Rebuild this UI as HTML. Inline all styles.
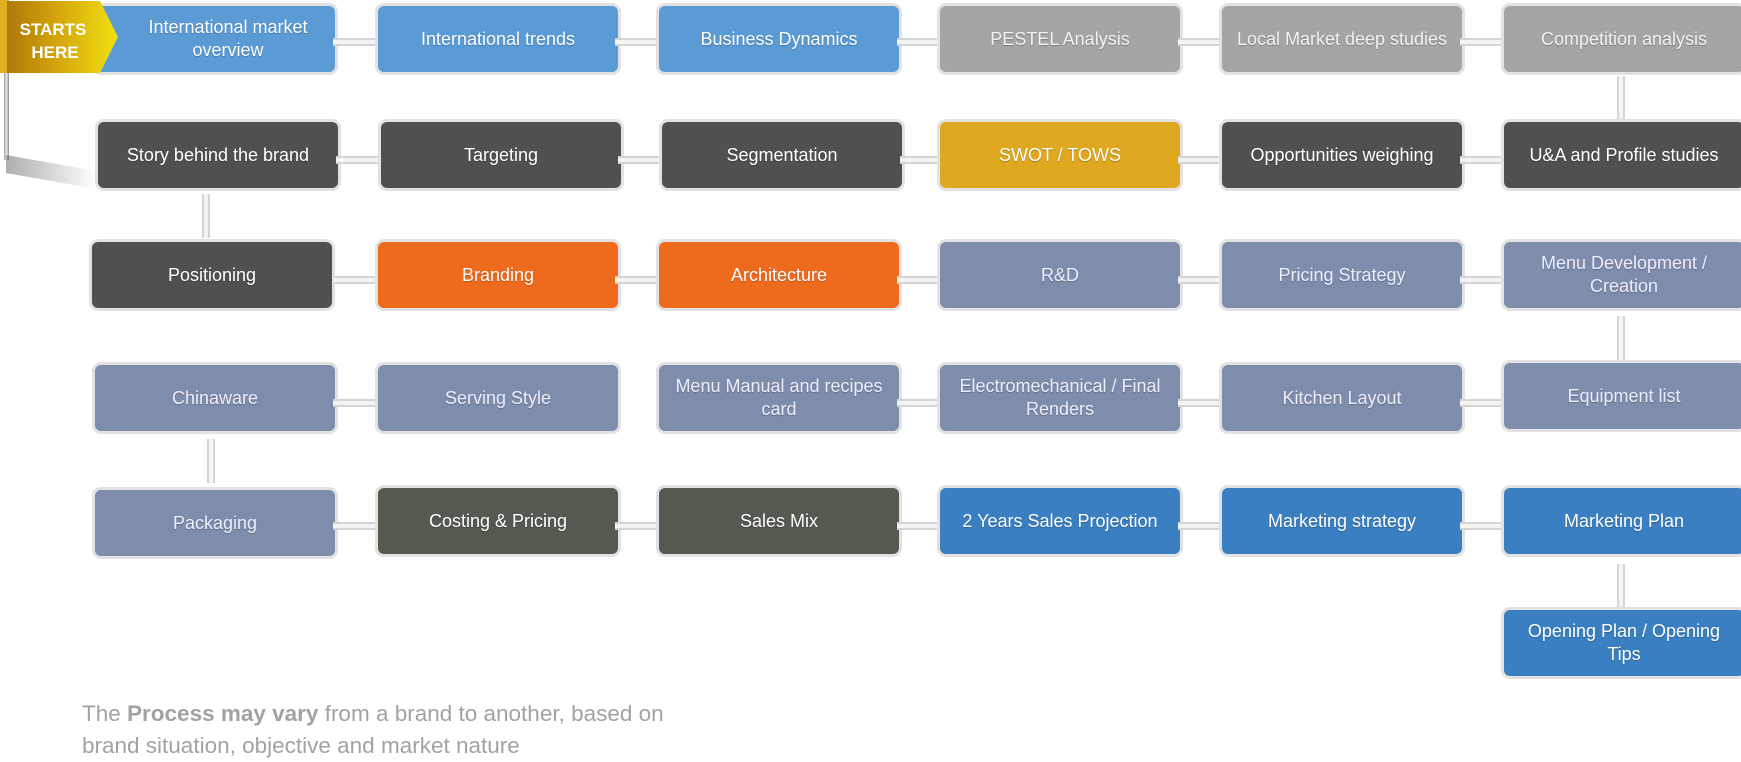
<!DOCTYPE html>
<html><head><meta charset="utf-8"><style>
body{margin:0;width:1741px;height:759px;background:#fff;position:relative;overflow:hidden;font-family:"Liberation Sans",sans-serif}
.b{position:absolute;width:232px;height:66px;border:3px solid #e2e2e2;border-radius:9px;color:#fff;display:flex;align-items:center;justify-content:center;text-align:center;font-size:18px;line-height:23px;box-sizing:content-box;text-shadow:0 1px 1px rgba(0,0,0,.25);padding:0 4px}
.lb{background:#5b9bd5}.gr{background:#a5a5a5;color:#f2f2f2}.dk{background:#505050}.au{background:#dfa820}.or{background:#ee6b1e}.sl{background:#7f8dad;color:#eef}.dg{background:#555a50}.bl{background:#3a7fc1}
.h{position:absolute;height:4px;width:42px;border-top:2px solid #d4d4d4;border-bottom:2px solid #d4d4d4;background:#f4f4f4}
.v{position:absolute;width:4px;height:44px;border-left:2px solid #d4d4d4;border-right:2px solid #d4d4d4;background:#f4f4f4}
</style></head><body>
<!-- row1 -->
<div class="b lb" style="left:92px;top:3px;padding-left:30px;width:206px">International market<br>overview</div>
<div class="h" style="left:333px;top:38px"></div>
<div class="b lb" style="left:375px;top:3px">International trends</div>
<div class="h" style="left:615px;top:38px"></div>
<div class="b lb" style="left:656px;top:3px">Business Dynamics</div>
<div class="h" style="left:897px;top:38px"></div>
<div class="b gr" style="left:937px;top:3px">PESTEL Analysis</div>
<div class="h" style="left:1178px;top:38px"></div>
<div class="b gr" style="left:1219px;top:3px">Local Market deep studies</div>
<div class="h" style="left:1460px;top:38px"></div>
<div class="b gr" style="left:1501px;top:3px">Competition analysis</div>
<div class="v" style="left:1617px;top:76px"></div>
<!-- row2 -->
<div class="b dk" style="left:95px;top:119px">Story behind the brand</div>
<div class="h" style="left:336px;top:156px"></div>
<div class="b dk" style="left:378px;top:119px">Targeting</div>
<div class="h" style="left:618px;top:156px"></div>
<div class="b dk" style="left:659px;top:119px">Segmentation</div>
<div class="h" style="left:900px;top:156px"></div>
<div class="b au" style="left:937px;top:119px">SWOT / TOWS</div>
<div class="h" style="left:1178px;top:156px"></div>
<div class="b dk" style="left:1219px;top:119px">Opportunities weighing</div>
<div class="h" style="left:1460px;top:156px"></div>
<div class="b dk" style="left:1501px;top:119px">U&amp;A and Profile studies</div>
<div class="v" style="left:202px;top:194px"></div>
<!-- row3 -->
<div class="b dk" style="left:89px;top:239px">Positioning</div>
<div class="h" style="left:333px;top:276px"></div>
<div class="b or" style="left:375px;top:239px">Branding</div>
<div class="h" style="left:615px;top:276px"></div>
<div class="b or" style="left:656px;top:239px">Architecture</div>
<div class="h" style="left:897px;top:276px"></div>
<div class="b sl" style="left:937px;top:239px">R&amp;D</div>
<div class="h" style="left:1178px;top:276px"></div>
<div class="b sl" style="left:1219px;top:239px">Pricing Strategy</div>
<div class="h" style="left:1460px;top:276px"></div>
<div class="b sl" style="left:1501px;top:239px">Menu Development /<br>Creation</div>
<div class="v" style="left:1617px;top:316px"></div>
<!-- row4 -->
<div class="b sl" style="left:92px;top:362px">Chinaware</div>
<div class="h" style="left:333px;top:399px"></div>
<div class="b sl" style="left:375px;top:362px">Serving Style</div>
<div class="b sl" style="left:656px;top:362px">Menu Manual and recipes<br>card</div>
<div class="h" style="left:897px;top:399px"></div>
<div class="b sl" style="left:937px;top:362px">Electromechanical / Final<br>Renders</div>
<div class="h" style="left:1178px;top:399px"></div>
<div class="b sl" style="left:1219px;top:362px">Kitchen Layout</div>
<div class="h" style="left:1460px;top:399px"></div>
<div class="b sl" style="left:1501px;top:360px">Equipment list</div>
<div class="v" style="left:207px;top:439px"></div>
<!-- row5 -->
<div class="b sl" style="left:92px;top:487px">Packaging</div>
<div class="h" style="left:333px;top:522px"></div>
<div class="b dg" style="left:375px;top:485px">Costing &amp; Pricing</div>
<div class="h" style="left:615px;top:522px"></div>
<div class="b dg" style="left:656px;top:485px">Sales Mix</div>
<div class="h" style="left:897px;top:522px"></div>
<div class="b bl" style="left:937px;top:485px">2 Years Sales Projection</div>
<div class="h" style="left:1178px;top:522px"></div>
<div class="b bl" style="left:1219px;top:485px">Marketing strategy</div>
<div class="h" style="left:1460px;top:522px"></div>
<div class="b bl" style="left:1501px;top:485px">Marketing Plan</div>
<div class="v" style="left:1617px;top:564px"></div>
<div class="b bl" style="left:1501px;top:607px">Opening Plan / Opening<br>Tips</div>
<!-- flag -->
<div style="position:absolute;left:4px;top:0;width:5px;height:160px;background:linear-gradient(90deg,#999,#eee,#888)"></div>
<div style="position:absolute;left:6px;top:155px;width:90px;height:18px;background:linear-gradient(90deg,rgba(120,120,120,.6),rgba(200,200,200,0));transform:skewY(10deg);transform-origin:left top"></div>
<svg style="position:absolute;left:0;top:0" width="130" height="75"><defs><linearGradient id="g" x1="0" x2="1"><stop offset="0" stop-color="#a8720a"/><stop offset=".5" stop-color="#d6a70c"/><stop offset="1" stop-color="#f0e010"/></linearGradient></defs><polygon points="0,1 100,1 118,37 100,73 0,73" fill="url(#g)"/><rect x="0" y="0" width="7" height="73" fill="#e0b020"/><text x="53" y="35" font-family="Liberation Sans" font-weight="bold" font-size="17" fill="#fff" text-anchor="middle">STARTS</text><text x="55" y="58" font-family="Liberation Sans" font-weight="bold" font-size="17" fill="#fff" text-anchor="middle">HERE</text></svg>
<!-- footer -->
<div style="position:absolute;left:82px;top:698px;font-size:22.5px;line-height:32px;color:#a2a2a2">The <b>Process may vary</b> from a brand to another, based on<br>brand situation, objective and market nature</div>
</body></html>
